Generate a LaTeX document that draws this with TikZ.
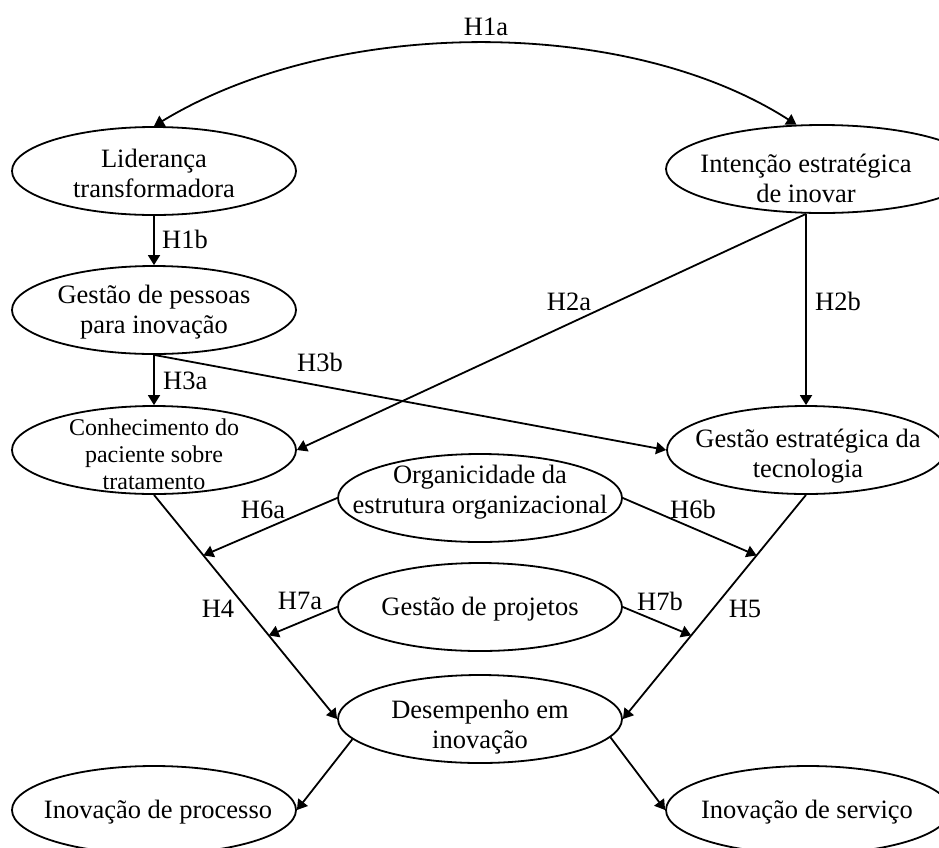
\documentclass[tikz,border=0pt]{standalone}
\usepackage{fontspec}
\setmainfont{Liberation Serif}
\usetikzlibrary{arrows.meta,shapes.geometric,calc}

\tikzset{
  oval/.style={ellipse, draw, line width=1.8pt, inner sep=0pt,
    minimum width=284pt, minimum height=88pt},
  % anchor=base sits on the baseline of the last line
  ovaltext/.style={inner sep=0pt, align=center, anchor=base,
    font=\fontsize{26.5}{30}\selectfont},
  smalltext/.style={ovaltext, font=\fontsize{24}{27}\selectfont},
  hyp/.style={inner sep=0pt, font=\fontsize{26.5}{30}\selectfont},
  arr/.style={line width=1.8pt, -{Triangle[length=10pt,width=12pt]}},
  dblarr/.style={line width=1.8pt,
    {Triangle[length=10pt,width=12pt]}-{Triangle[length=10pt,width=12pt]}},
}

\begin{document}
\begin{tikzpicture}[x=1pt,y=-1pt]
\clip (0,0) rectangle (939,847);

% constructs
\node[oval] (lid) at (154,171) {};
\node[oval, minimum width=312pt] (int) at (822,169) {};
\node[oval] (pes) at (154,310) {};
\node[oval] (con) at (154,450) {};
\node[oval, minimum width=278pt] (ges) at (806,450) {};
\node[oval] (org) at (480,498) {};
\node[oval] (prj) at (480,607) {};
\node[oval] (des) at (480,719) {};
\node[oval] (proc) at (154,810) {};
\node[oval] (serv) at (808,810) {};

% construct names
\node[ovaltext] (lid-t) at (154,197) {Liderança\\transformadora};
\node[ovaltext] (int-t) at (806,202) {Intenção estratégica\\de inovar};
\node[ovaltext] (pes-t) at (154,333) {Gestão de pessoas\\para inovação};
\node[smalltext] (con-t) at (154,489) {Conhecimento do\\paciente sobre\\tratamento};
\node[ovaltext] (ges-t) at (808,477) {Gestão estratégica da\\tecnologia};
\node[ovaltext] (org-t) at (480,513) {Organicidade da\\estrutura organizacional};
\node[ovaltext] (prj-t) at (480,615) {Gestão de projetos};
\node[ovaltext] (des-t) at (480,748) {Desempenho em\\inovação};
\node[ovaltext] (proc-t) at (158,818) {Inovação de processo};
\node[ovaltext] (serv-t) at (807,818) {Inovação de serviço};

% points where the moderators meet the H4 and H5 paths
\coordinate (m6a) at ($(con.south)!0.27!(des.west)$);
\coordinate (m7a) at ($(con.south)!0.627!(des.west)$);
\coordinate (m6b) at ($(ges.south)!0.27!(des.east)$);
\coordinate (m7b) at ($(ges.south)!0.627!(des.east)$);

% hypotheses
\draw[dblarr] (lid.north) .. controls (335,16) and (627,16) .. (int.120);
\draw[arr] (lid.south) -- (pes.north);
\draw[arr] (pes.south) -- (con.north);
\draw[arr] (pes.south) -- (ges.west);
\draw[arr] (int.south -| ges.north) -- (con.east);
\draw[arr] (int.south -| ges.north) -- (ges.north);
\draw[arr] (con.south) -- (des.west);
\draw[arr] (ges.south) -- (des.east);
\draw[arr] (org.west) -- (m6a);
\draw[arr] (org.east) -- (m6b);
\draw[arr] (prj.west) -- (m7a);
\draw[arr] (prj.east) -- (m7b);
\draw[arr] (des.189) -- (proc.east);
\draw[arr] (des.352) -- (serv.west);

% hypothesis labels
\node[hyp, anchor=base] (h1a) at (486,35) {H1a};
\node[hyp, anchor=base west] (h1b) at (162,248) {H1b};
\node[hyp, anchor=base west] (h3a) at (163,389) {H3a};
\node[hyp, anchor=base] (h2a) at (569,310) {H2a};
\node[hyp, anchor=base west] (h2b) at (815,310) {H2b};
\node[hyp, anchor=base] (h3b) at (320,371) {H3b};
\node[hyp, anchor=base] (h6a) at (263,518) {H6a};
\node[hyp, anchor=base] (h6b) at (693,518) {H6b};
\node[hyp, anchor=base] (h4) at (218,617) {H4};
\node[hyp, anchor=base] (h7a) at (300,609) {H7a};
\node[hyp, anchor=base] (h7b) at (660,610) {H7b};
\node[hyp, anchor=base] (h5) at (745,617) {H5};
\end{tikzpicture}
\end{document}
